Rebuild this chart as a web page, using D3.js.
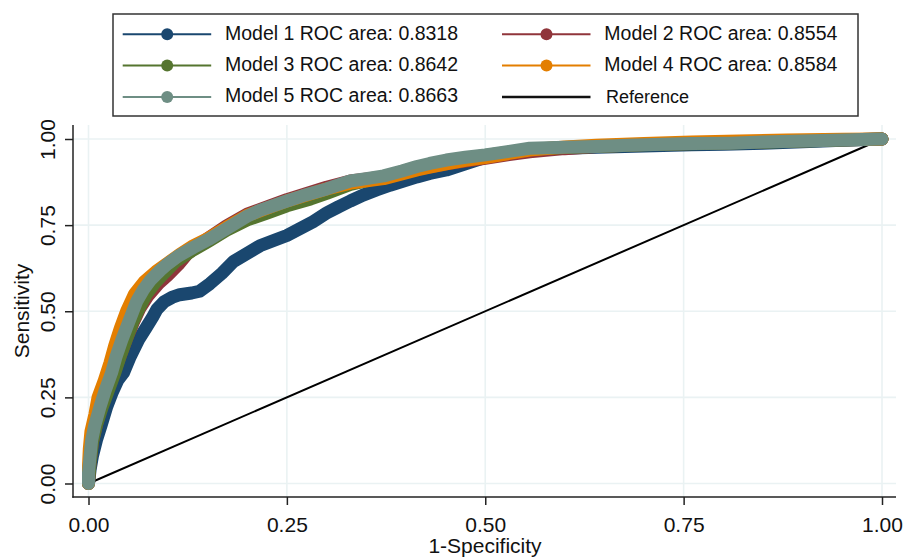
<!DOCTYPE html>
<html><head><meta charset="utf-8">
<script src="https://cdn.jsdelivr.net/npm/d3@7"></script>
<style>
body{margin:0;background:#fff}
text{font-family:"Liberation Sans",Arial,sans-serif;fill:#111}
</style></head>
<body><svg id="c" width="909" height="557"></svg>
<script>
// ---- data ----
const tickValues = [0, 0.25, 0.5, 0.75, 1];
const tickLabels = ["0.00", "0.25", "0.50", "0.75", "1.00"];
const seriesNames = ["Model 1 ROC area: 0.8318","Model 2 ROC area: 0.8554","Model 3 ROC area: 0.8642","Model 4 ROC area: 0.8584","Model 5 ROC area: 0.8663"];
const seriesColors = ["#1a476f","#90353b","#55752f","#e37e00","#6e8e84"];
const referenceName = "Reference";

const model1 = [[0,0],[0.002,0.04],[0.005,0.08],[0.01,0.126],[0.016,0.17],[0.023,0.223],[0.03,0.265],[0.037,0.3],[0.044,0.321],[0.052,0.365],[0.063,0.417],[0.072,0.45],[0.081,0.484],[0.086,0.505],[0.095,0.527],[0.105,0.54],[0.115,0.548],[0.13,0.553],[0.14,0.558],[0.153,0.58],[0.168,0.61],[0.183,0.645],[0.2,0.668],[0.216,0.69],[0.235,0.707],[0.25,0.72],[0.265,0.738],[0.283,0.76],[0.3,0.785],[0.315,0.803],[0.33,0.82],[0.346,0.837],[0.363,0.852],[0.38,0.866],[0.397,0.878],[0.414,0.89],[0.43,0.9],[0.451,0.91],[0.475,0.928],[0.5,0.947],[0.53,0.962],[0.56,0.97],[0.6,0.973],[0.64,0.976],[0.7,0.98],[0.76,0.983],[0.8,0.985],[0.85,0.988],[0.9,0.992],[0.95,0.996],[1,1]];
const model2 = [[0,0],[0.002,0.06],[0.005,0.12],[0.01,0.17],[0.016,0.22],[0.024,0.27],[0.032,0.32],[0.04,0.37],[0.048,0.42],[0.057,0.47],[0.065,0.51],[0.075,0.545],[0.088,0.58],[0.1,0.605],[0.113,0.635],[0.125,0.668],[0.14,0.695],[0.151,0.712],[0.174,0.748],[0.2,0.782],[0.25,0.824],[0.3,0.86],[0.33,0.878],[0.372,0.89],[0.414,0.912],[0.45,0.928],[0.5,0.944],[0.53,0.955],[0.556,0.963],[0.6,0.972],[0.64,0.978],[0.7,0.984],[0.76,0.987],[0.82,0.99],[0.9,0.995],[1,1]];
const model3 = [[0,0],[0.002,0.06],[0.005,0.12],[0.01,0.17],[0.017,0.22],[0.025,0.27],[0.033,0.32],[0.04,0.37],[0.048,0.42],[0.056,0.47],[0.064,0.51],[0.073,0.55],[0.083,0.58],[0.095,0.61],[0.11,0.645],[0.13,0.675],[0.151,0.703],[0.174,0.735],[0.2,0.765],[0.225,0.785],[0.25,0.806],[0.28,0.826],[0.3,0.842],[0.33,0.868],[0.372,0.89],[0.414,0.918],[0.45,0.935],[0.5,0.952],[0.556,0.97],[0.6,0.975],[0.64,0.978],[0.7,0.983],[0.76,0.986],[0.82,0.989],[0.9,0.994],[1,1]];
const model4 = [[0,0],[0,0.05],[0.001,0.1],[0.003,0.15],[0.008,0.2],[0.012,0.25],[0.02,0.3],[0.027,0.35],[0.033,0.4],[0.04,0.45],[0.048,0.5],[0.058,0.55],[0.07,0.585],[0.085,0.615],[0.1,0.64],[0.115,0.665],[0.132,0.69],[0.151,0.712],[0.174,0.744],[0.2,0.778],[0.25,0.82],[0.3,0.855],[0.33,0.872],[0.372,0.885],[0.414,0.91],[0.43,0.918],[0.451,0.928],[0.475,0.938],[0.5,0.946],[0.53,0.958],[0.556,0.968],[0.6,0.977],[0.64,0.982],[0.7,0.987],[0.76,0.991],[0.82,0.994],[0.88,0.997],[0.95,0.999],[1,1]];
const model5 = [[0,0],[0,0.03],[0.002,0.08],[0.004,0.126],[0.008,0.17],[0.0145,0.223],[0.021,0.27],[0.029,0.321],[0.035,0.37],[0.042,0.417],[0.05,0.465],[0.061,0.53],[0.069,0.562],[0.078,0.59],[0.09,0.618],[0.1,0.638],[0.113,0.66],[0.132,0.685],[0.151,0.708],[0.174,0.74],[0.2,0.776],[0.216,0.793],[0.25,0.82],[0.27,0.835],[0.3,0.855],[0.33,0.878],[0.35,0.885],[0.372,0.893],[0.395,0.907],[0.414,0.92],[0.43,0.929],[0.451,0.939],[0.475,0.947],[0.5,0.954],[0.53,0.964],[0.556,0.973],[0.6,0.976],[0.64,0.978],[0.68,0.982],[0.724,0.985],[0.76,0.987],[0.808,0.988],[0.85,0.991],[0.9,0.994],[0.95,0.997],[1,1]];
const referenceLine = [[0,0],[1,1]];

const models = [model1, model2, model3, model4, model5];

// ---- drawing ----
const svg = d3.select("#c");
const x = d3.scaleLinear().domain([0,1]).range([88.5,882]);
const y = d3.scaleLinear().domain([0,1]).range([483.5,139]);
const axisLeftX = 73, axisBottomY = 497, plotTop = 125, plotRight = 896;

// gridlines
const grid = svg.append("g");
grid.selectAll("line.h").data(tickValues).join("line")
  .attr("x1", axisLeftX).attr("x2", plotRight)
  .attr("y1", d => y(d)).attr("y2", d => y(d))
  .attr("stroke", "#eaf2f3").attr("stroke-width", 1.6);
grid.selectAll("line.v").data(tickValues).join("line")
  .attr("y1", plotTop).attr("y2", axisBottomY)
  .attr("x1", d => x(d)).attr("x2", d => x(d))
  .attr("stroke", "#eaf2f3").attr("stroke-width", 1.6);

// reference line
const line = d3.line().x(d => x(d[0])).y(d => y(d[1]));
svg.append("path").datum(referenceLine).attr("d", line)
  .attr("fill", "none").attr("stroke", "#000").attr("stroke-width", 2);

// ROC curves (thick marker bands)
models.forEach((m, i) => {
  svg.append("path").datum(m).attr("d", line)
    .attr("fill", "none").attr("stroke", seriesColors[i])
    .attr("stroke-width", 13).attr("stroke-linejoin", "round").attr("stroke-linecap", "round");
});

// axes
const fmt = (d, i) => tickLabels[tickValues.indexOf(d)];
const xAxis = svg.append("g").attr("transform", `translate(0,${axisBottomY})`)
  .call(d3.axisBottom(x).tickValues(tickValues).tickFormat(fmt).tickSize(8).tickPadding(12));
xAxis.select(".domain").remove();
xAxis.selectAll(".tick line").attr("stroke", "#222").attr("stroke-width", 1.5);
xAxis.selectAll(".tick text").attr("font-size", 21).attr("fill", "#111")
  .style("font-family", '"Liberation Sans", Arial, sans-serif');

const yAxis = svg.append("g").attr("transform", `translate(${axisLeftX},0)`)
  .call(d3.axisLeft(y).tickValues(tickValues).tickFormat(fmt).tickSize(8));
yAxis.select(".domain").remove();
yAxis.selectAll(".tick line").attr("stroke", "#222").attr("stroke-width", 1.5);
yAxis.selectAll(".tick text").attr("font-size", 21).attr("fill", "#111")
  .style("font-family", '"Liberation Sans", Arial, sans-serif')
  .attr("x", null).attr("dy", null).attr("text-anchor", "middle")
  .attr("transform", "translate(-18,0) rotate(-90)");

svg.append("line").attr("x1", axisLeftX).attr("x2", axisLeftX).attr("y1", plotTop).attr("y2", axisBottomY + 0.75)
  .attr("stroke", "#222").attr("stroke-width", 1.5);
svg.append("line").attr("x1", axisLeftX - 0.75).attr("x2", plotRight).attr("y1", axisBottomY).attr("y2", axisBottomY)
  .attr("stroke", "#222").attr("stroke-width", 1.5);

// axis titles
svg.append("text").attr("transform", "translate(28.5,311) rotate(-90)")
  .attr("text-anchor", "middle").attr("font-size", 21).text("Sensitivity");
svg.append("text").attr("x", 485).attr("y", 553)
  .attr("text-anchor", "middle").attr("font-size", 21).text("1-Specificity");

// legend
const lg = svg.append("g");
lg.append("rect").attr("x", 113).attr("y", 14).attr("width", 745).attr("height", 102)
  .attr("fill", "#fff").attr("stroke", "#333").attr("stroke-width", 1.5);
const colX = [122.7, 502];
const rowY = [34.3, 65.5, 97];
const entries = seriesNames.map((n, i) => ({name: n, color: seriesColors[i], marker: true, col: i % 2, row: Math.floor(i / 2)}));
entries.push({name: referenceName, color: "#111", marker: false, col: 1, row: 2});
entries.forEach(e => {
  const x0 = colX[e.col], yy = rowY[e.row];
  lg.append("line").attr("x1", x0).attr("x2", x0 + 88.5).attr("y1", yy).attr("y2", yy)
    .attr("stroke", e.color).attr("stroke-width", e.marker ? 2 : 2.5);
  if (e.marker) lg.append("circle").attr("cx", x0 + 44.5).attr("cy", yy).attr("r", 6).attr("fill", e.color);
  lg.append("text").attr("x", x0 + (e.marker ? 102.3 : 104)).attr("y", yy + (e.marker ? 5.3 : 6))
    .attr("font-size", e.marker ? 19.5 : 18).text(e.name);
});
</script>
</body></html>
